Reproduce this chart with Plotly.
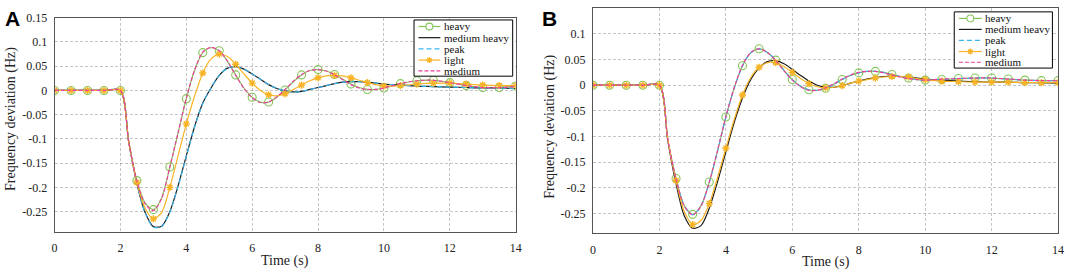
import numpy as np
import plotly.graph_objects as go

# ---------------- data ----------------
TIME = [0, 0.5, 1, 1.5, 2,
        2.25, 2.5, 2.75, 3, 3.25, 3.5, 3.75, 4, 4.25, 4.5, 4.75, 5,
        5.25, 5.5, 5.75, 6, 6.25, 6.5, 6.75, 7, 7.25, 7.5, 7.75, 8,
        8.25, 8.5, 8.75, 9, 9.25, 9.5, 9.75, 10,
        10.5, 11, 11.5, 12, 12.5, 13, 13.5, 14]

# Panel A
A_heavy = [0, 0, 0, 0, 0,
           -0.105, -0.186, -0.232, -0.246, -0.222, -0.158, -0.088, -0.017,
           0.041, 0.078, 0.088, 0.082, 0.060, 0.032, 0.005, -0.014,
           -0.024, -0.024, -0.014, 0.001, 0.018, 0.032, 0.041, 0.043,
           0.040, 0.033, 0.023, 0.013, 0.006, 0.002, 0.002, 0.005,
           0.014, 0.020, 0.021, 0.016, 0.010, 0.006, 0.006, 0.009]
A_medium_heavy = [0, 0, 0, 0, 0,
                  -0.105, -0.192, -0.252, -0.281, -0.280, -0.250, -0.197, -0.135,
                  -0.075, -0.026, 0.005, 0.031, 0.046, 0.049, 0.044, 0.034,
                  0.023, 0.012, 0.004, -0.001, -0.003, -0.002, 0.002, 0.006,
                  0.010, 0.014, 0.017, 0.018, 0.018, 0.017, 0.015, 0.013,
                  0.011, 0.009, 0.008, 0.007, 0.006, 0.005, 0.005, 0.004]
A_peak = [0, 0, 0, 0, 0,
          -0.105, -0.192, -0.252, -0.282, -0.281, -0.251, -0.198, -0.136,
          -0.076, -0.027, 0.005, 0.031, 0.046, 0.049, 0.044, 0.034,
          0.023, 0.012, 0.004, -0.001, -0.003, -0.002, 0.002, 0.006,
          0.010, 0.014, 0.017, 0.018, 0.018, 0.017, 0.015, 0.013,
          0.011, 0.009, 0.008, 0.007, 0.006, 0.005, 0.005, 0.004]
A_light = [0, 0, 0, 0, 0,
           -0.105, -0.190, -0.243, -0.265, -0.252, -0.200, -0.135, -0.069,
           -0.012, 0.036, 0.065, 0.075, 0.070, 0.054, 0.034, 0.015,
           0.000, -0.009, -0.011, -0.007, 0.002, 0.011, 0.020, 0.026,
           0.030, 0.031, 0.030, 0.026, 0.021, 0.016, 0.012, 0.009,
           0.010, 0.013, 0.015, 0.015, 0.013, 0.011, 0.010, 0.010]
A_medium = [0, 0, 0, 0, 0,
            -0.106, -0.187, -0.234, -0.248, -0.223, -0.158, -0.087, -0.016,
            0.042, 0.079, 0.089, 0.082, 0.060, 0.031, 0.004, -0.015,
            -0.025, -0.024, -0.013, 0.002, 0.019, 0.033, 0.041, 0.043,
            0.040, 0.032, 0.022, 0.012, 0.005, 0.002, 0.002, 0.005,
            0.014, 0.020, 0.021, 0.016, 0.010, 0.006, 0.006, 0.008]

# Panel B
B_heavy = [0, 0, 0, 0, 0,
           -0.105, -0.182, -0.235, -0.252, -0.235, -0.189, -0.128, -0.062,
           -0.006, 0.038, 0.063, 0.071, 0.064, 0.049, 0.029, 0.011,
           -0.002, -0.009, -0.010, -0.006, 0.002, 0.011, 0.019, 0.024,
           0.027, 0.027, 0.025, 0.021, 0.017, 0.014, 0.011, 0.010,
           0.011, 0.013, 0.014, 0.014, 0.012, 0.010, 0.009, 0.009]
B_medium_heavy = [0, 0, 0, 0, 0,
                  -0.107, -0.192, -0.255, -0.279, -0.274, -0.240, -0.188, -0.130,
                  -0.073, -0.025, 0.011, 0.034, 0.046, 0.048, 0.042, 0.031,
                  0.019, 0.008, 0.000, -0.004, -0.004, -0.001, 0.004, 0.008,
                  0.012, 0.015, 0.017, 0.018, 0.017, 0.016, 0.014, 0.012,
                  0.010, 0.008, 0.007, 0.006, 0.006, 0.005, 0.005, 0.004]
B_peak = [0, 0, 0, 0, 0,
          -0.105, -0.183, -0.236, -0.253, -0.236, -0.190, -0.128, -0.062,
          -0.006, 0.038, 0.063, 0.071, 0.064, 0.049, 0.029, 0.011,
          -0.002, -0.009, -0.010, -0.006, 0.002, 0.011, 0.019, 0.024,
          0.027, 0.027, 0.025, 0.021, 0.017, 0.014, 0.011, 0.010,
          0.011, 0.013, 0.014, 0.014, 0.012, 0.010, 0.009, 0.009]
B_light = [0, 0, 0, 0, 0,
           -0.105, -0.186, -0.247, -0.272, -0.264, -0.231, -0.180, -0.123,
           -0.067, -0.019, 0.015, 0.035, 0.044, 0.044, 0.036, 0.025,
           0.013, 0.003, -0.003, -0.005, -0.004, -0.001, 0.004, 0.008,
           0.011, 0.014, 0.016, 0.017, 0.017, 0.016, 0.013, 0.011,
           0.008, 0.007, 0.006, 0.006, 0.006, 0.005, 0.005, 0.005]
B_medium = [0, 0, 0, 0, 0,
            -0.106, -0.183, -0.236, -0.253, -0.236, -0.189, -0.127, -0.061,
            -0.005, 0.039, 0.064, 0.071, 0.064, 0.048, 0.028, 0.010,
            -0.003, -0.010, -0.010, -0.005, 0.003, 0.012, 0.020, 0.025,
            0.027, 0.027, 0.024, 0.020, 0.016, 0.013, 0.011, 0.010,
            0.012, 0.013, 0.014, 0.014, 0.012, 0.010, 0.009, 0.009]

SERIES_NAMES = ["heavy", "medium heavy", "peak", "light", "medium"]
X_TICKS = [0, 2, 4, 6, 8, 10, 12, 14]
X_TICK_TEXT = ["0", "2", "4", "6", "8", "10", "12", "14"]
Y_TICKS_A = [-0.25, -0.2, -0.15, -0.1, -0.05, 0, 0.05, 0.1, 0.15]
Y_TICK_TEXT_A = ["-0.25", "-0.2", "-0.15", "-0.1", "-0.05", "0", "0.05", "0.1", "0.15"]
Y_TICKS_B = [-0.25, -0.2, -0.15, -0.1, -0.05, 0, 0.05, 0.1]
Y_TICK_TEXT_B = ["-0.25", "-0.2", "-0.15", "-0.1", "-0.05", "0", "0.05", "0.1"]
X_TITLE = "Time (s)"
Y_TITLE = "Frequency deviation (Hz)"
PANEL_LABELS = ["A", "B"]

# ---------------- styling ----------------
W, H = 1072, 272
GREEN = "#86c45a"
BLACK = "#1a1a1a"
CYAN = "#38b4ea"
ORANGE = "#f7b325"
MAGENTA = "#ec3f9e"
SERIF = "Liberation Serif, Times New Roman, serif"

STYLE = {
    "heavy": dict(color=GREEN, dash="solid", marker="circle"),
    "medium heavy": dict(color=BLACK, dash="solid", marker=None),
    "peak": dict(color=CYAN, dash="5px,3px", marker=None),
    "light": dict(color=ORANGE, dash="solid", marker="star"),
    "medium": dict(color=MAGENTA, dash="4px,2px", marker=None),
}


def pxx(x):
    return x / W


def pyy(y):
    return 1 - y / H


t = np.array(TIME)
mark_mask = np.isclose(np.mod(t, 0.5), 0)

panels = [
    dict(xa="x", ya="y", data=dict(zip(SERIES_NAMES, [A_heavy, A_medium_heavy, A_peak, A_light, A_medium]))),
    dict(xa="x2", ya="y2", data=dict(zip(SERIES_NAMES, [B_heavy, B_medium_heavy, B_peak, B_light, B_medium]))),
]

fig = go.Figure()
for p in panels:
    for name in SERIES_NAMES:
        st = STYLE[name]
        y = np.array(p["data"][name])
        fig.add_trace(go.Scatter(
            x=t, y=y, mode="lines", xaxis=p["xa"], yaxis=p["ya"],
            line=dict(color=st["color"], width=1.2, dash=st["dash"], shape="spline", smoothing=0.8),
            showlegend=False, name=name, hoverinfo="skip"))
        if st["marker"] == "circle":
            fig.add_trace(go.Scatter(
                x=t[mark_mask], y=y[mark_mask], mode="markers", xaxis=p["xa"], yaxis=p["ya"],
                marker=dict(symbol="circle-open", size=8, color=st["color"], line=dict(width=1.1, color=st["color"])),
                showlegend=False, name=name, hoverinfo="skip"))
        elif st["marker"] == "star":
            fig.add_trace(go.Scatter(
                x=t[mark_mask], y=y[mark_mask], mode="markers", xaxis=p["xa"], yaxis=p["ya"],
                marker=dict(symbol="asterisk-open", size=6, color=st["color"], line=dict(width=1.4, color=st["color"])),
                showlegend=False, name=name, hoverinfo="skip"))

axis_common = dict(
    showline=True, mirror=True, linecolor="#555555", linewidth=1,
    showgrid=True, gridcolor="rgba(90,90,90,0.35)", griddash="3px,2px", gridwidth=1,
    zeroline=False, ticks="",
    tickfont=dict(family=SERIF, size=12, color="#222222"),
)

fig.update_layout(
    width=W, height=H,
    margin=dict(l=0, r=0, t=0, b=0),
    paper_bgcolor="white", plot_bgcolor="white",
    showlegend=False,
    xaxis=dict(domain=[pxx(52), pxx(517)], range=[0, 14], tickvals=X_TICKS, ticktext=X_TICK_TEXT,
               anchor="y", ticklabelstandoff=5, **axis_common),
    yaxis=dict(domain=[pyy(230.7), pyy(11)], range=[-0.2916, 0.15], tickvals=Y_TICKS_A, ticktext=Y_TICK_TEXT_A,
               anchor="x", ticklabelstandoff=4, **axis_common),
    xaxis2=dict(domain=[pxx(595), pxx(1064)], range=[0, 14], tickvals=X_TICKS, ticktext=X_TICK_TEXT,
                anchor="y2", ticklabelstandoff=5, **axis_common),
    yaxis2=dict(domain=[pyy(232.3), pyy(1)], range=[-0.289, 0.1507], tickvals=Y_TICKS_B, ticktext=Y_TICK_TEXT_B,
                anchor="x2", ticklabelstandoff=4, **axis_common),
)

annotations = []
shapes = []

# axis titles and panel letters
title_pos = [
    dict(xt=(284.5, 261), yt=(8, 115), letter=(10, 12)),
    dict(xt=(829.5, 262), yt=(551.5, 123), letter=(551, 12)),
]
for lab, tp in zip(PANEL_LABELS, title_pos):
    annotations.append(dict(x=pxx(tp["xt"][0]), y=pyy(tp["xt"][1]), xref="paper", yref="paper",
                            text=X_TITLE, showarrow=False, xanchor="center", yanchor="middle",
                            font=dict(family=SERIF, size=14, color="#222222")))
    annotations.append(dict(x=pxx(tp["yt"][0]), y=pyy(tp["yt"][1]), xref="paper", yref="paper",
                            text=Y_TITLE, showarrow=False, textangle=-90, xanchor="center", yanchor="middle",
                            font=dict(family=SERIF, size=14, color="#222222")))
    annotations.append(dict(x=pxx(tp["letter"][0]), y=pyy(tp["letter"][1]), xref="paper", yref="paper",
                            text="<b>%s</b>" % lab, showarrow=False, xanchor="center", yanchor="middle",
                            font=dict(family="Liberation Sans, Arial, sans-serif", size=21, color="black")))

# manual legends (compact, MATLAB-like)
legend_boxes = [
    dict(box=(414.5, 13.3, 514, 71), rows=[20, 31.5, 43, 54.5, 65.5], lx=(419, 441), tx=444),
    dict(box=(959.3, 5, 1058.3, 62.7), rows=[11.7, 23, 34.3, 45.7, 56.7], lx=(964, 987), tx=989),
]
for lb in legend_boxes:
    x0, y0, x1, y1 = lb["box"]
    shapes.append(dict(type="rect", xref="paper", yref="paper", x0=pxx(x0), x1=pxx(x1), y0=pyy(y1), y1=pyy(y0),
                       line=dict(color="black", width=1), fillcolor="white", layer="above"))
    for name, ry in zip(SERIES_NAMES, lb["rows"]):
        st = STYLE[name]
        shapes.append(dict(type="line", xref="paper", yref="paper", x0=pxx(lb["lx"][0]), x1=pxx(lb["lx"][1]),
                           y0=pyy(ry), y1=pyy(ry), line=dict(color=st["color"], width=1.2, dash=st["dash"]),
                           layer="above"))
        cx = (lb["lx"][0] + lb["lx"][1]) / 2
        if st["marker"] == "circle":
            r = 3.5
            shapes.append(dict(type="circle", xref="paper", yref="paper", x0=pxx(cx - r), x1=pxx(cx + r),
                               y0=pyy(ry + r), y1=pyy(ry - r), line=dict(color=st["color"], width=1.1),
                               fillcolor="white", layer="above"))
        elif st["marker"] == "star":
            r = 3
            segs = []
            for ang in (0, 45, 90, 135):
                dx = r * np.cos(np.radians(ang))
                dy = r * np.sin(np.radians(ang))
                segs.append("M%.5f,%.5f L%.5f,%.5f" % (pxx(cx - dx), pyy(ry - dy), pxx(cx + dx), pyy(ry + dy)))
            shapes.append(dict(type="path", xref="paper", yref="paper", path=" ".join(segs),
                               line=dict(color=st["color"], width=1.3), layer="above"))
        annotations.append(dict(x=pxx(lb["tx"]), y=pyy(ry), xref="paper", yref="paper", text=name,
                                showarrow=False, xanchor="left", yanchor="middle", borderpad=0,
                                font=dict(family=SERIF, size=11, color="#111111")))

fig.update_layout(annotations=annotations, shapes=shapes)
fig.write_html("out.html", config={"displayModeBar": False},
               post_script="document.body.style.margin='0px';")
